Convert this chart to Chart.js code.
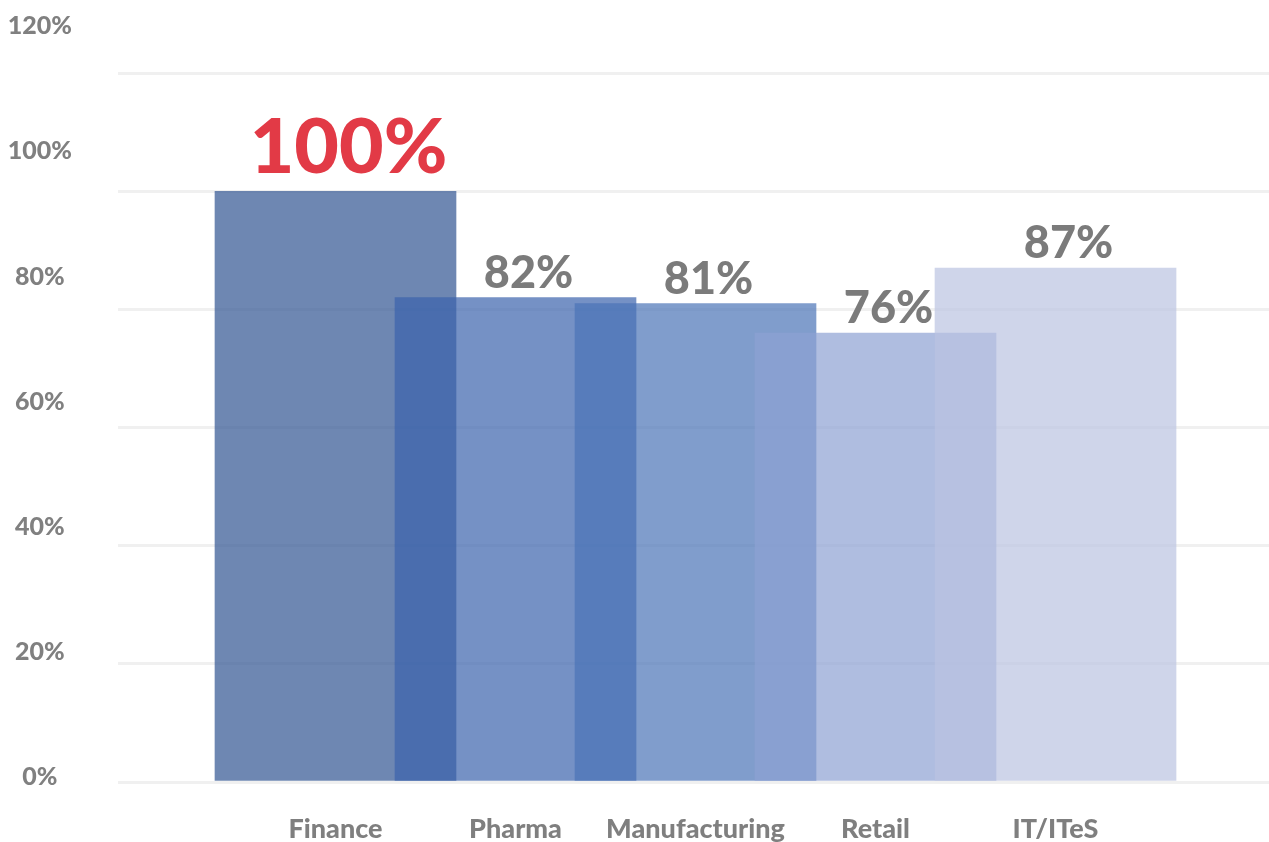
<!DOCTYPE html>
<html lang="en">
<head>
<meta charset="UTF-8">
<title>Sector chart</title>
<script src="https://cdn.jsdelivr.net/npm/chart.js"></script>
<style>
    html, body { margin: 0; padding: 0; background: #fff; }
    #wrap { width: 1269px; height: 842px; position: relative; }
</style>
</head>
<body>
<div id="wrap">
    <canvas id="sectorChart"></canvas>
</div>
<script>
    // chart data
    const categories = ['Finance', 'Pharma', 'Manufacturing', 'Retail', 'IT/ITeS'];
    const values = [100, 82, 81, 76, 87];
    const yTicks = [0, 20, 40, 60, 80, 100, 120];

    // draws the % figure above each bar, biggest one in red
    const valueLabels = {
        id: 'valueLabels',
        afterDatasetsDraw(chart) {
            const ctx = chart.ctx;
            const meta = chart.getDatasetMeta(0);
            const top = Math.max(...values);
            ctx.save();
            ctx.textAlign = 'center';
            ctx.textBaseline = 'alphabetic';
            meta.data.forEach((bar, i) => {
                const big = values[i] === top;
                ctx.fillStyle = big ? '#e23a46' : '#7b7b7b';
                ctx.font = big ? '900 77px Lato' : '900 45px Lato';
                ctx.fillText(values[i] + '%', bar.x + 13, bar.y - (big ? 18 : 10));
            });
            ctx.restore();
        }
    };

    new Chart(document.getElementById('sectorChart'), {
        type: 'bar',
        data: {
            datasets: [{
                data: categories.map((c, i) => ({ x: i, y: values[i] })),
                backgroundColor: [
                    'rgba(49, 84, 145, 0.7)',
                    'rgba(58, 99, 172, 0.7)',
                    'rgba(74, 115, 182, 0.7)',
                    'rgba(141, 161, 211, 0.7)',
                    'rgba(186, 195, 225, 0.7)'
                ],
                borderWidth: 0,
                barThickness: 241
            }]
        },
        options: {
            responsive: true,
            maintainAspectRatio: false,
            animation: false,
            layout: { padding: 0 },
            plugins: {
                legend: { display: false },
                tooltip: { enabled: false }
            },
            scales: {
                x: {
                    type: 'linear',
                    offset: false,
                    min: -1.2083,
                    max: 5.186,
                    grid: { display: false, drawTicks: false, offset: false },
                    border: { display: false },
                    afterBuildTicks: s => { s.ticks = categories.map((c, i) => ({ value: i })); },
                    afterFit: s => { s.height = 60; s.paddingLeft = 0; s.paddingRight = 0; },
                    ticks: {
                        autoSkip: false,
                        maxRotation: 0,
                        padding: 31,
                        color: '#7f7f7f',
                        font: { family: 'Lato', size: 27, weight: '900' },
                        callback: v => categories[v]
                    }
                },
                y: {
                    position: 'left',
                    min: 0,
                    max: 132.4,
                    grid: { color: '#f0f0f0', lineWidth: 3, drawTicks: false },
                    border: { display: false },
                    afterBuildTicks: s => { s.ticks = yTicks.map(v => ({ value: v })); },
                    ticks: { display: false }
                },
                // the printed % labels sit on their own (slightly different) scale
                yLabels: {
                    position: 'left',
                    min: -0.8,
                    max: 124.2,
                    grid: { display: false, drawTicks: false },
                    border: { display: false },
                    afterBuildTicks: s => { s.ticks = yTicks.map(v => ({ value: v })); },
                    afterFit: s => { s.width = 118; s.paddingTop = 0; s.paddingBottom = 0; },
                    ticks: {
                        crossAlign: 'center',
                        padding: 46,
                        color: '#808080',
                        font: { family: 'Lato', size: 25, weight: '900' },
                        callback: v => v + '%'
                    }
                }
            }
        },
        plugins: [valueLabels]
    });
</script>
</body>
</html>
